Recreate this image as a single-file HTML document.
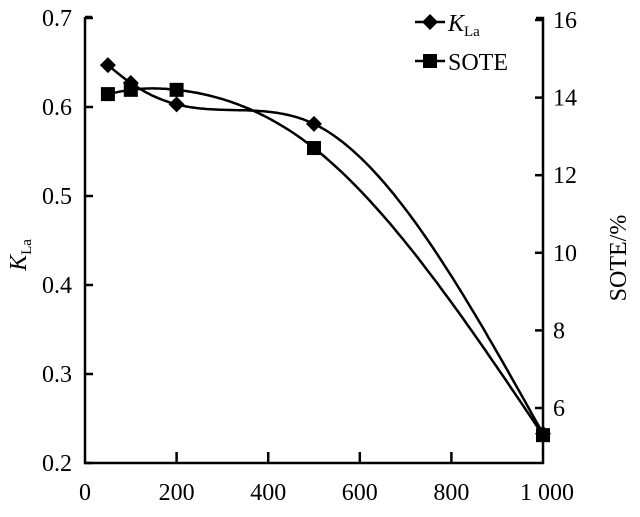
<!DOCTYPE html>
<html><head><meta charset="utf-8"><style>
html,body{margin:0;padding:0;background:#fff;}
svg{display:block;font-family:"Liberation Serif",serif;}
</style></head><body>
<svg id="chart" width="640" height="517">
<g id="axes"></g>
<g id="marks"></g>
<g>
<line x1="415" y1="22" x2="445" y2="22" stroke="#000" stroke-width="2.5"/>
<path d="M430 14 L438 22 L430 30 L422 22 Z" fill="#000"/>
<text x="448" y="31" font-size="24" font-style="italic">K<tspan font-size="15" font-style="normal" dy="5">La</tspan></text>
<line x1="415" y1="61" x2="445" y2="61" stroke="#000" stroke-width="2.5"/>
<rect x="423" y="54" width="14" height="14" fill="#000"/>
<text x="448" y="70" font-size="24">SOTE</text>
</g>
<text transform="translate(26,255) rotate(-90)" font-size="24" font-style="italic" text-anchor="middle">K<tspan font-size="15" font-style="normal" dy="5">La</tspan></text>
<text transform="translate(626,258) rotate(-90)" font-size="24" text-anchor="middle">SOTE/%</text>
</svg>
<script>
const xVals=[50,100,200,500,1000];
const klaVals=[0.647,0.627,0.603,0.581,0.233];
const soteVals=[14.09,14.2,14.2,12.7,5.3];
const xTicks=[0,200,400,600,800,1000];
const xTickLabels=["0","200","400","600","800","1 000"];
const leftTicks=[0.2,0.3,0.4,0.5,0.6,0.7];
const rightTicks=[6,8,10,12,14,16];
const NS="http://www.w3.org/2000/svg";
const X=v=>85+v*0.458;
const YL=v=>463-(v-0.2)*890;
const YR=v=>408-(v-6)*38.8;
function mk(tag,attrs,parent){const e=document.createElementNS(NS,tag);for(const k in attrs)e.setAttribute(k,attrs[k]);parent.appendChild(e);return e;}
const ax=document.getElementById('axes'),mg=document.getElementById('marks');
const st={stroke:"#000","stroke-width":2.5,fill:"none"};
let a=mk('path',Object.assign({d:`M85 17 H92 M85 17 V463 H543 V18 H536`},st),ax);


xTicks.forEach((t,i)=>{
 if(i>0&&i<xTicks.length-1){const l=mk('line',Object.assign({x1:X(t),x2:X(t),y1:463,y2:452},st),ax);
 
 }
 const tx=mk('text',{x:X(t)+(i==xTicks.length-1?4:0),y:500,"font-size":24,"text-anchor":"middle"},ax);tx.textContent=xTickLabels[i];
 
 
});
leftTicks.forEach(t=>{
 const l=mk('line',Object.assign({x1:85,x2:93,y1:YL(t),y2:YL(t)},st),ax);
 
 
 const tx=mk('text',{x:72,y:YL(t)+8,"font-size":24,"text-anchor":"end"},ax);tx.textContent=t.toFixed(1);
 
 
});
rightTicks.forEach(t=>{
 const l=mk('line',Object.assign({x1:535,x2:543,y1:YR(t),y2:YR(t)},st),ax);
 
 
 const tx=mk('text',{x:553,y:YR(t)+8,"font-size":24},ax);tx.textContent=t;
 
 
});
function spline(xs,ys){const n=xs.length,h=[],al=[0],l=[1],mu=[0],z=[0],c=new Array(n).fill(0),b=[],d=[];
 for(let i=0;i<n-1;i++)h[i]=xs[i+1]-xs[i];
 for(let i=1;i<n-1;i++)al[i]=3/h[i]*(ys[i+1]-ys[i])-3/h[i-1]*(ys[i]-ys[i-1]);
 for(let i=1;i<n-1;i++){l[i]=2*(xs[i+1]-xs[i-1])-h[i-1]*mu[i-1];mu[i]=h[i]/l[i];z[i]=(al[i]-h[i-1]*z[i-1])/l[i];}
 for(let j=n-2;j>=0;j--){c[j]=z[j]-mu[j]*c[j+1];b[j]=(ys[j+1]-ys[j])/h[j]-h[j]*(c[j+1]+2*c[j])/3;d[j]=(c[j+1]-c[j])/(3*h[j]);}
 return x=>{let i=0;while(i<n-2&&x>xs[i+1])i++;const t=x-xs[i];return ys[i]+b[i]*t+c[i]*t*t+d[i]*t*t*t;};}
function pathOf(f,Y){let d="";for(let x=xVals[0];x<=xVals[xVals.length-1];x+=5)d+=(d?" L":"M")+X(x).toFixed(1)+" "+Y(f(x)).toFixed(1);return d;}
let c1=mk('path',Object.assign({d:pathOf(spline(xVals,klaVals),YL)},st),mg);


let c2=mk('path',Object.assign({d:pathOf(spline(xVals,soteVals),YR)},st),mg);


const kp=xVals.map((x,i)=>[X(x),YL(klaVals[i])]);
const sp=xVals.map((x,i)=>[X(x),YR(soteVals[i])]);
kp.forEach(p=>{const m=mk('path',{d:`M${p[0]} ${p[1]-8} L${p[0]+8} ${p[1]} L${p[0]} ${p[1]+8} L${p[0]-8} ${p[1]} Z`,fill:"#000"},mg);
 
 });
sp.forEach(p=>{const m=mk('rect',{x:p[0]-7,y:p[1]-7,width:14,height:14,fill:"#000"},mg);
 
 });
</script>
</body></html>
